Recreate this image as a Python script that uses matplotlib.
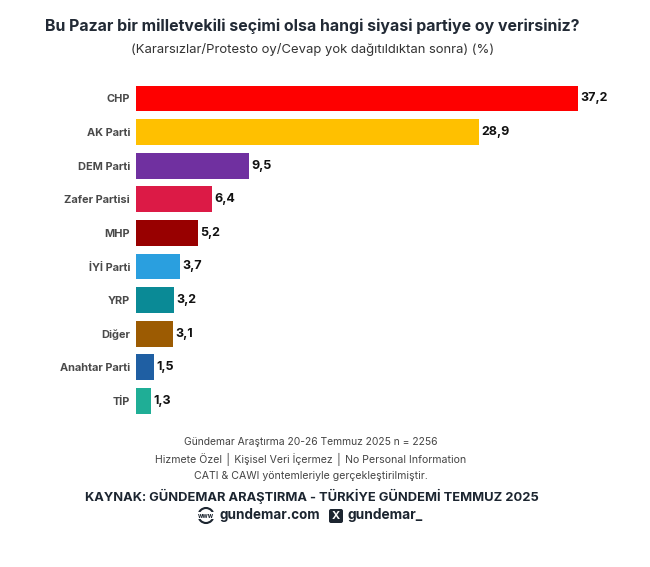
import matplotlib
matplotlib.use('Agg')
import matplotlib.pyplot as plt
from matplotlib.patches import Circle, FancyBboxPatch

parties = ['CHP', 'AK Parti', 'DEM Parti', 'Zafer Partisi', 'MHP', 'İYİ Parti', 'YRP', 'Diğer', 'Anahtar Parti', 'TİP']
values = [37.2, 28.9, 9.5, 6.4, 5.2, 3.7, 3.2, 3.1, 1.5, 1.3]
value_labels = ['37,2', '28,9', '9,5', '6,4', '5,2', '3,7', '3,2', '3,1', '1,5', '1,3']
colors = ['#fe0000', '#ffc000', '#7030a0', '#dc1a46', '#980000', '#2a9fdf', '#0a8a96', '#9c5b02', '#1f5fa3', '#1fae96']

W, H = 650, 567
plt.rcParams['font.family'] = ['Inter', 'DejaVu Sans']

fig = plt.figure(figsize=(W / 100, H / 100), dpi=100, facecolor='white')

# axes placed in pixels: left edge of bars at 136, rows 33.6px apart
top, bottom = 81.7, 417.7
ax = fig.add_axes([136 / W, 1 - bottom / H, (W - 136) / W, (bottom - top) / H])
ax.barh(range(len(parties)), values, height=0.77, color=colors)
ax.set_xlim(0, (W - 136) / 11.88)
ax.set_ylim(9.5, -0.5)
ax.set_yticks(range(len(parties)))
ax.set_yticklabels(parties, fontsize=7.9, fontweight='bold', color='#4a4a4a')
ax.tick_params(axis='y', length=0, pad=4.3)
ax.xaxis.set_visible(False)
for s in ax.spines.values():
    s.set_visible(False)
for i, v in enumerate(values):
    ax.text(v + 0.2, i, value_labels[i], va='center', ha='left', fontsize=9, fontweight='bold', color='#111111')


def label(x, y, s, **kw):
    fig.text(x / W, 1 - y / H, s, va='center', **kw)


label(312.5, 26, 'Bu Pazar bir milletvekili seçimi olsa hangi siyasi partiye oy verirsiniz?',
      ha='center', fontsize=11.45, fontweight='bold', color='#222a35')
label(312.5, 50, '(Kararsızlar/Protesto oy/Cevap yok dağıtıldıktan sonra) (%)',
      ha='center', fontsize=9.4, color='#333333')

label(311, 442, 'Gündemar Araştırma 20-26 Temmuz 2025 n = 2256', ha='center', fontsize=7.45, color='#444444')
label(311, 459, 'Hizmete Özel │ Kişisel Veri İçermez │ No Personal Information', ha='center', fontsize=7.6, color='#444444')
label(311, 476, 'CATI & CAWI yöntemleriyle gerçekleştirilmiştir.', ha='center', fontsize=7.6, color='#444444')
label(311.5, 496, 'KAYNAK: GÜNDEMAR ARAŞTIRMA - TÜRKİYE GÜNDEMİ TEMMUZ 2025', ha='center',
      fontsize=9.25, fontweight='bold', color='#1c2530')
label(219, 515.5, 'gundemar.com', ha='left', fontsize=9.7, fontweight='bold', color='#1c2530')
label(348, 515.5, 'gundemar_', ha='left', fontsize=9.9, fontweight='bold', color='#1c2530')

# footer icons
overlay = fig.add_axes([0, 0, 1, 1], facecolor='none')
overlay.set_xlim(0, W)
overlay.set_ylim(H, 0)
overlay.axis('off')
overlay.add_patch(Circle((206, 515.5), 7.5, fc='none', ec='#1c2530', lw=1.5))
overlay.text(206, 515.5, 'www', ha='center', va='center', fontsize=4.5, fontweight='bold',
             color='#1c2530', bbox=dict(fc='white', ec='none', pad=0.5))
overlay.add_patch(FancyBboxPatch((331, 511), 10, 10, boxstyle='round,pad=2', fc='#1c2530', ec='none'))
overlay.text(336, 516, 'X', ha='center', va='center', fontsize=8, fontweight='bold', color='white')

fig.savefig('out.png', dpi=100)
